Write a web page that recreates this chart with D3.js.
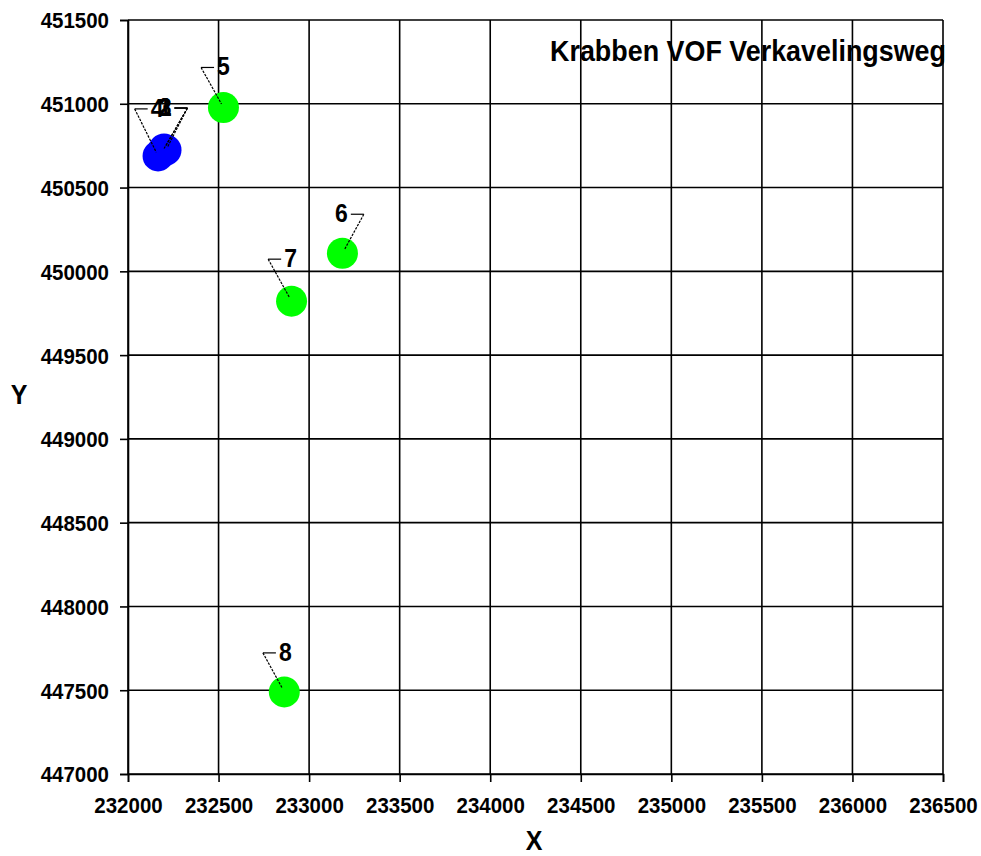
<!DOCTYPE html>
<html>
<head>
<meta charset="utf-8">
<script src="https://cdn.jsdelivr.net/npm/d3@7"></script>
<style>
  html, body { margin: 0; padding: 0; background: #fff; }
  text { font-family: "Liberation Sans", Arial, sans-serif; font-weight: bold; fill: #000; }
</style>
</head>
<body>
<div id="chart"></div>
<script>
// chart data
const pointIds = ['1', '2', '3', '4', '5', '6', '7', '8'];
const xValues = [232210, 232188, 232199, 232166, 232527, 233184, 232903, 232863];
const yValues = [450724, 450712, 450730, 450689, 450978, 450108, 449822, 447490];
const pointGroups = ['A', 'A', 'A', 'A', 'B', 'B', 'B', 'B'];
const xTicks = [232000, 232500, 233000, 233500, 234000, 234500, 235000, 235500, 236000, 236500];
const yTicks = [447000, 447500, 448000, 448500, 449000, 449500, 450000, 450500, 451000, 451500];
const chartTitle = 'Krabben VOF Verkavelingsweg';

// label placement (pixel offsets from the point, leader side)
const labelLayout = [
  { dx: -1, dy: -43, side: 'right' },
  { dx: 3, dy: -45, side: 'right' },
  { dx: 1, dy: -42, side: 'right' },
  { dx: -1, dy: -48, side: 'left' },
  { dx: 0, dy: -41, side: 'left' },
  { dx: -1, dy: -40, side: 'right' },
  { dx: -1, dy: -43, side: 'left' },
  { dx: 1, dy: -40, side: 'left' }
];

const groupColor = { A: '#0000ff', B: '#00ff00' };
const stretch = 1.12; // text in the original looks a bit taller than wide

const width = 981, height = 856;
const margin = { top: 20, right: 38, bottom: 82, left: 128 };
const innerW = width - margin.left - margin.right;
const innerH = height - margin.top - margin.bottom;

const data = pointIds.map((id, i) => ({
  id, x: xValues[i], y: yValues[i], group: pointGroups[i], lab: labelLayout[i]
}));

const svg = d3.select('#chart').append('svg')
  .attr('width', width)
  .attr('height', height);

const chart = svg.append('g')
  .attr('transform', `translate(${margin.left}, ${margin.top})`);

const x = d3.scaleLinear()
  .domain([xTicks[0], xTicks[xTicks.length - 1]])
  .range([0, innerW]);

const y = d3.scaleLinear()
  .domain([yTicks[0], yTicks[yTicks.length - 1]])
  .range([innerH, 0]);

// grid
chart.append('g')
  .attr('class', 'grid-x')
  .selectAll('line')
  .data(xTicks)
  .enter()
  .append('line')
  .attr('x1', d => x(d)).attr('x2', d => x(d))
  .attr('y1', 0).attr('y2', innerH)
  .attr('stroke', '#000')
  .attr('stroke-width', 1.6);

chart.append('g')
  .attr('class', 'grid-y')
  .selectAll('line')
  .data(yTicks)
  .enter()
  .append('line')
  .attr('x1', 0).attr('x2', innerW)
  .attr('y1', d => y(d)).attr('y2', d => y(d))
  .attr('stroke', '#000')
  .attr('stroke-width', 1.6);

// axes
const xAxis = d3.axisBottom(x).tickValues(xTicks).tickFormat(d3.format('d')).tickSize(8);
const yAxis = d3.axisLeft(y).tickValues(yTicks).tickFormat(d3.format('d')).tickSize(8).tickPadding(11);

const gx = chart.append('g')
  .attr('class', 'x-axis')
  .attr('transform', `translate(0, ${innerH})`)
  .call(xAxis);

const gy = chart.append('g')
  .attr('class', 'y-axis')
  .call(yAxis);

[gx, gy].forEach(g => {
  g.select('.domain').attr('stroke', '#000').attr('stroke-width', 1.6);
  g.selectAll('.tick line').attr('stroke', '#000').attr('stroke-width', 1.6);
  g.selectAll('.tick text')
    .style('font-family', '"Liberation Sans", Arial, sans-serif')
    .style('font-weight', 'bold')
    .style('font-size', '20.5px')
    .attr('fill', '#000')
    .attr('dy', null)
    .attr('dominant-baseline', 'central')
    .attr('transform', `scale(1, ${stretch})`);
});
gx.selectAll('.tick text').attr('y', 31 / stretch);

// points
chart.append('g')
  .selectAll('circle')
  .data(data)
  .enter()
  .append('circle')
  .attr('cx', d => x(d.x))
  .attr('cy', d => y(d.y))
  .attr('r', 15.5)
  .attr('fill', d => groupColor[d.group]);

// leader lines
const labelFont = 23;
const halfW = labelFont * 0.556 / 2;
const leaders = chart.append('g');
data.forEach(d => {
  const px = x(d.x), py = y(d.y);
  const lx = px + d.lab.dx, ly = py + d.lab.dy;
  const s = d.lab.side === 'left' ? -1 : 1;
  const hx1 = lx + s * (halfW + 3);
  const hx2 = lx + s * (halfW + 16);
  const hy = ly + 1;
  const ang = Math.atan2(py - hy, px - hx2);
  const ex = px - Math.cos(ang) * 4, ey = py - Math.sin(ang) * 4;
  leaders.append('line')
    .attr('x1', hx1).attr('y1', hy).attr('x2', hx2).attr('y2', hy)
    .attr('stroke', '#000').attr('stroke-width', 1.2);
  leaders.append('line')
    .attr('x1', hx2).attr('y1', hy).attr('x2', ex).attr('y2', ey)
    .attr('stroke', '#000').attr('stroke-width', 1.2)
    .attr('stroke-dasharray', '2.5,1.2');
});

// point labels
chart.append('g')
  .selectAll('text')
  .data(data)
  .enter()
  .append('text')
  .attr('transform', d => `translate(${x(d.x) + d.lab.dx}, ${y(d.y) + d.lab.dy}) scale(1, ${stretch})`)
  .attr('text-anchor', 'middle')
  .attr('dominant-baseline', 'central')
  .style('font-size', labelFont + 'px')
  .text(d => d.id);

// title and axis titles
function addText(tx, ty, size, anchor, str) {
  svg.append('text')
    .attr('transform', `translate(${tx}, ${ty}) scale(1, ${stretch})`)
    .attr('text-anchor', anchor)
    .attr('dominant-baseline', 'central')
    .style('font-size', size + 'px')
    .text(str);
}

addText(946, 50, 26.9, 'end', chartTitle);
addText(19, 395, 25, 'middle', 'Y');
addText(534, 841, 25, 'middle', 'X');
</script>
</body>
</html>
